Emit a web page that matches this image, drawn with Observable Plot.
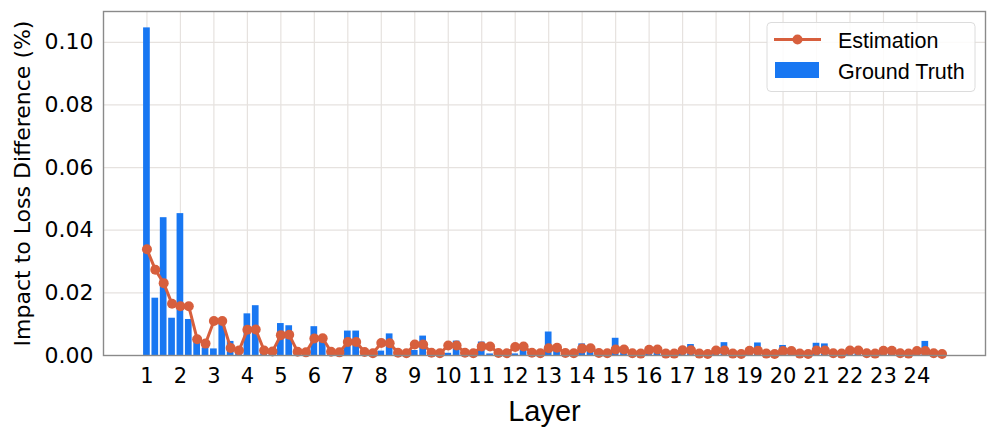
<!DOCTYPE html>
<html>
<head>
<meta charset="utf-8">
<script src="https://cdn.jsdelivr.net/npm/d3@7"></script>
<script src="https://cdn.jsdelivr.net/npm/@observablehq/plot@0.6"></script>
<style>
  html, body { margin: 0; padding: 0; background: #fff; }
  #chart { position: relative; width: 997px; height: 434px; }
</style>
</head>
<body>
<div id="chart"></div>
<script>
// Layer tick labels
const layers = ["1","2","3","4","5","6","7","8","9","10","11","12","13","14","15","16","17","18","19","20","21","22","23","24"];

// Ground truth (4 values per layer)
const groundTruth = [
  0.1046, 0.0183, 0.0440, 0.0119,
  0.0453, 0.0115, 0.0050, 0.0024,
  0.0021, 0.0107, 0.0045, 0.0010,
  0.0133, 0.0159, 0.0010, 0.0005,
  0.0102, 0.0095, 0.0008, 0.0005,
  0.0092, 0.0050, 0.0008, 0.0005,
  0.0078, 0.0078, 0.0006, 0.0004,
  0.0014, 0.0069, 0.0005, 0.0003,
  0.0016, 0.0062, 0.0005, 0.0003,
  0.0007, 0.0046, 0.0004, 0.0003,
  0.0043, 0.0005, 0.0004, 0.0003,
  0.0005, 0.0022, 0.0003, 0.0002,
  0.0075, 0.0021, 0.0003, 0.0002,
  0.0037, 0.0030, 0.0003, 0.0002,
  0.0055, 0.0020, 0.0003, 0.0002,
  0.0010, 0.0012, 0.0003, 0.0002,
  0.0008, 0.0035, 0.0003, 0.0002,
  0.0010, 0.0041, 0.0003, 0.0002,
  0.0010, 0.0040, 0.0003, 0.0002,
  0.0032, 0.0010, 0.0003, 0.0002,
  0.0039, 0.0037, 0.0003, 0.0002,
  0.0010, 0.0010, 0.0003, 0.0002,
  0.0010, 0.0010, 0.0003, 0.0002,
  0.0012, 0.0045, 0.0003, 0.0002
];

// Estimation (4 values per layer)
const estimation = [
  0.0339, 0.0274, 0.0231, 0.0165,
  0.0157, 0.0157, 0.0052, 0.0038,
  0.0110, 0.0110, 0.0024, 0.0016,
  0.0082, 0.0083, 0.0016, 0.0013,
  0.0065, 0.0066, 0.0012, 0.0010,
  0.0054, 0.0055, 0.0012, 0.0010,
  0.0043, 0.0043, 0.0011, 0.0007,
  0.0040, 0.0039, 0.0009, 0.0007,
  0.0035, 0.0035, 0.0009, 0.0007,
  0.0032, 0.0032, 0.0009, 0.0007,
  0.0029, 0.0029, 0.0008, 0.0007,
  0.0027, 0.0029, 0.0009, 0.0007,
  0.0023, 0.0025, 0.0008, 0.0007,
  0.0022, 0.0023, 0.0008, 0.0007,
  0.0019, 0.0019, 0.0007, 0.0006,
  0.0018, 0.0019, 0.0006, 0.0006,
  0.0017, 0.0017, 0.0006, 0.0005,
  0.0016, 0.0016, 0.0006, 0.0005,
  0.0015, 0.0015, 0.0006, 0.0005,
  0.0014, 0.0014, 0.0006, 0.0005,
  0.0016, 0.0016, 0.0007, 0.0006,
  0.0016, 0.0016, 0.0007, 0.0006,
  0.0015, 0.0015, 0.0007, 0.0006,
  0.0014, 0.0014, 0.0007, 0.0005
];

const yTicks = [0, 0.02, 0.04, 0.06, 0.08, 0.10];
const perLayer = 4;

const rows = groundTruth.map((v, i) => ({i, truth: v, est: estimation[i]}));
const xTicks = layers.map((_, j) => j * perLayer);

const BLUE = "#1877f2";
const ORANGE = "#d75f3d";
const GRID = "#e6e2df";

const n = groundTruth.length;
const pad = (n - 1 + 0.8) * 0.05;

const chart = Plot.plot({
  width: 997,
  height: 434,
  marginLeft: 103,
  marginRight: 12,
  marginTop: 11,
  marginBottom: 79,
  style: {fontFamily: "DejaVu Sans", fontSize: "22px", color: "#000", background: "#fff"},
  x: {type: "linear", domain: [-0.4 - pad, n - 1 + 0.4 + pad]},
  y: {domain: [0, d3.max(groundTruth) * 1.05]},
  marks: [
    Plot.gridX(xTicks, {stroke: GRID, strokeOpacity: 1, strokeWidth: 1.2}),
    Plot.gridY(yTicks, {stroke: GRID, strokeOpacity: 1, strokeWidth: 1.2}),
    Plot.rectY(rows, {x1: d => d.i - 0.4, x2: d => d.i + 0.4, y1: 0, y2: "truth", fill: BLUE}),
    Plot.line(rows, {x: "i", y: "est", stroke: ORANGE, strokeWidth: 3}),
    Plot.dot(rows, {x: "i", y: "est", fill: ORANGE, r: 5}),
    Plot.axisX(xTicks, {tickSize: 0, tickPadding: 13, fontSize: 21, tickFormat: d => layers[d / perLayer], label: null}),
    Plot.axisY(yTicks, {tickSize: 0, tickPadding: 10, fontSize: 22, tickFormat: d3.format(".2f"), label: null}),
    Plot.frame({stroke: "#8a8a8a", strokeWidth: 1.4}),
    Plot.text(["Impact to Loss Difference (%)"], {frameAnchor: "left", dx: -81, rotate: -90, textAnchor: "middle", lineAnchor: "middle", fontSize: 22, fontFamily: "DejaVu Sans", fill: "#000"}),
    Plot.text(["Layer"], {frameAnchor: "bottom", dy: 56, textAnchor: "middle", lineAnchor: "middle", fontSize: 29, fontFamily: "Liberation Sans", fill: "#000"})
  ]
});

document.getElementById("chart").appendChild(chart);

// Legend (inside plot, top-right)
const svg = d3.select(chart);
const g = svg.append("g").attr("font-family", "Liberation Sans").attr("font-size", 21.5).attr("text-anchor", "start");
g.append("rect").attr("x", 767).attr("y", 22.5).attr("width", 208).attr("height", 69)
  .attr("rx", 4).attr("fill", "#fff").attr("fill-opacity", 0.85).attr("stroke", "#dcdcdc").attr("stroke-width", 1);
g.append("line").attr("x1", 774).attr("x2", 821).attr("y1", 39.5).attr("y2", 39.5)
  .attr("stroke", ORANGE).attr("stroke-width", 3);
g.append("circle").attr("cx", 797.5).attr("cy", 39.5).attr("r", 5).attr("fill", ORANGE);
g.append("rect").attr("x", 775).attr("y", 62).attr("width", 44).attr("height", 16).attr("fill", BLUE);
g.append("text").attr("x", 838).attr("y", 40).attr("dy", "0.35em").attr("fill", "#000").text("Estimation");
g.append("text").attr("x", 838).attr("y", 71).attr("dy", "0.35em").attr("fill", "#000").text("Ground Truth");
</script>
</body>
</html>
